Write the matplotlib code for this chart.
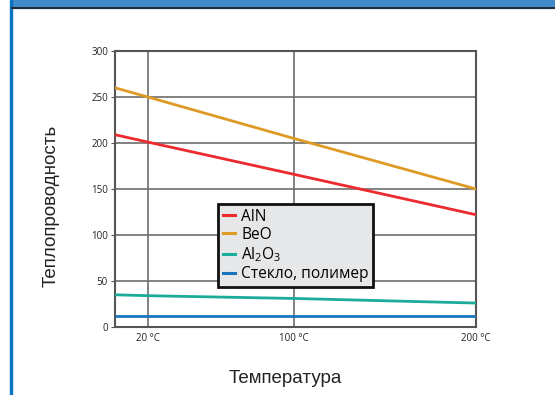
import matplotlib
matplotlib.use('Agg')
import matplotlib.pyplot as plt
from matplotlib.patches import Rectangle
from matplotlib.lines import Line2D

# data
temps = [2, 20, 100, 200]
aln = [209, 201, 166, 122]
beo = [260, 250, 205, 150]
al2o3 = [35, 34, 31, 26]
glass = [12, 12, 12, 12]

series_names = ['AlN', 'BeO', 'Al$_2$O$_3$', 'Стекло, полимер']
series_colors = ['#ee2a2f', '#dd9a25', '#1aab99', '#1b75bc']
xticks = [20, 100, 200]
xtick_labels = ['20 °C', '100 °C', '200 °C']
yticks = [0, 50, 100, 150, 200, 250, 300]

plt.rcParams['mathtext.default'] = 'regular'
plt.rcParams['font.family'] = ['Open Sans', 'DejaVu Sans']

fig = plt.figure(figsize=(5.55, 3.95), dpi=100)
ax = fig.add_axes([0.2072, 0.1722, 0.6505, 0.6987])

for ys, c in zip([aln, beo, al2o3, glass], series_colors):
    ax.plot(temps, ys, color=c, lw=2.0, solid_capstyle='butt', zorder=3)

ax.set_xlim(2, 200)
ax.set_ylim(0, 300)

# grid
for yv in yticks[1:-1]:
    ax.axhline(yv, color='#6d6d6d', lw=1.2, zorder=1)
for xv in xticks[:-1]:
    ax.axvline(xv, color='#6d6d6d', lw=1.2, zorder=1)

for s in ax.spines.values():
    s.set_color('#555555')
    s.set_linewidth(1.5)

ax.set_yticks(yticks)
ax.set_yticklabels([str(v) for v in yticks], fontsize=7, color='#222222')
ax.set_xticks(xticks)
ax.set_xticklabels(xtick_labels, fontsize=7, color='#222222')
ax.tick_params(axis='y', length=3, width=0.8, pad=2, color='#555555')
ax.tick_params(axis='x', length=0, pad=4)

handles = [Line2D([], [], color=c, lw=2.2) for c in series_colors]
leg = ax.legend(handles, series_names, loc='upper left', bbox_to_anchor=(0.285, 0.446),
                fontsize=11.2, frameon=True, fancybox=False, framealpha=1,
                facecolor='#e6e7e8', edgecolor='#111111', handlelength=0.8,
                handletextpad=0.4, labelspacing=0.15, borderpad=0.3,
                borderaxespad=0)
leg.get_frame().set_linewidth(2)
leg.set_zorder(5)

fig.text(0.092, 0.478, 'Теплопроводность', rotation=90, ha='center', va='center',
         fontsize=13.5, family=['Liberation Sans', 'DejaVu Sans'], color='#222222')
fig.text(0.514, 0.043, 'Температура', ha='center', va='center',
         fontsize=13.5, family=['Liberation Sans', 'DejaVu Sans'], color='#222222')

# frame decoration
fig.patches.append(Rectangle((12 / 555, 1 - 8 / 395), 1, 8 / 395, transform=fig.transFigure,
                             color='#428bca', zorder=0))
fig.lines.append(Line2D([12 / 555, 1], [1 - 8 / 395, 1 - 8 / 395], transform=fig.transFigure,
                        color='#1a1a1a', lw=1.2))
fig.patches.append(Rectangle((10 / 555, 0), 2.2 / 555, 1, transform=fig.transFigure,
                             color='#0a74c4', zorder=0))

fig.savefig('out.png', dpi=100)
